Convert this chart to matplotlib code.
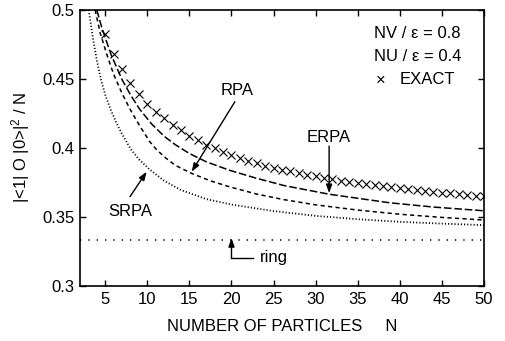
import matplotlib
matplotlib.use("Agg")
import matplotlib.pyplot as plt

plt.rcParams['font.family'] = ['Liberation Sans', 'DejaVu Sans']
plt.rcParams['mathtext.fontset'] = 'custom'
plt.rcParams['mathtext.rm'] = 'Liberation Sans'
plt.rcParams['mathtext.it'] = 'Liberation Sans'
plt.rcParams['lines.scale_dashes'] = False

# ---- data ----
exact_n = list(range(5, 51))
exact_v = [0.4826, 0.4679, 0.457, 0.4469, 0.4389, 0.432, 0.4263, 0.4215, 0.4168, 0.4128,
           0.409, 0.4055, 0.4025, 0.3998, 0.3973, 0.395, 0.3928, 0.3908, 0.389, 0.3872,
           0.3857, 0.3843, 0.383, 0.3817, 0.3805, 0.3794, 0.3783, 0.3773, 0.3763, 0.3754,
           0.3745, 0.3737, 0.3729, 0.3722, 0.3715, 0.3708, 0.3701, 0.3695, 0.3689, 0.3683,
           0.3677, 0.3671, 0.3665, 0.366, 0.3655, 0.365]

erpa_n = [4.0, 4.6, 5.7, 7.0, 8.0, 9.1, 10.5, 12.0, 13.3, 15.0, 17.0, 19.8, 23.0, 26.3, 31.6, 38.8, 44.0, 50.0]
erpa_v = [0.500, 0.487, 0.4675, 0.4495, 0.4385, 0.428, 0.4175, 0.4085, 0.4025, 0.396, 0.390,
          0.3838, 0.378, 0.3727, 0.3665, 0.3603, 0.3572, 0.3545]

rpa_n = [3.8, 4.4, 5.1, 5.7, 6.1, 7.0, 8.0, 9.1, 10.3, 11.1, 12.2, 13.3, 15.3, 17.5, 19.8, 23.0, 26.3, 30.0, 35.0, 40.0, 45.0, 50.0]
rpa_v = [0.500, 0.4833, 0.4695, 0.4585, 0.452, 0.4395, 0.4275, 0.416, 0.4045, 0.3988, 0.3927,
         0.3875, 0.3815, 0.3762, 0.3718, 0.3666, 0.3625, 0.3588, 0.355, 0.352, 0.3497, 0.3478]

srpa_n = [3.03, 3.5, 4.0, 4.5, 5.0, 5.6, 6.3, 7.0, 8.0, 9.0, 10.3, 12.0, 14.0, 17.0, 20.0, 25.0, 30.0, 35.0, 40.0, 45.0, 50.0]
srpa_v = [0.500, 0.481, 0.4635, 0.4495, 0.4385, 0.4285, 0.4185, 0.410, 0.3995, 0.3918, 0.3843,
          0.3762, 0.3695, 0.363, 0.359, 0.3543, 0.3508, 0.3484, 0.3465, 0.3452, 0.3441]

ring_n = [2, 50]
ring_v = [1/3, 1/3]

xticks = [5, 10, 15, 20, 25, 30, 35, 40, 45, 50]
yticks = [0.3, 0.35, 0.4, 0.45, 0.5]
ytick_labels = ["0.3", "0.35", "0.4", "0.45", "0.5"]

FS = 12

# ---- figure ----
fig = plt.figure(figsize=(5.05, 3.41), dpi=100)
ax = fig.add_axes([0.1584, 0.1613, 0.8, 0.8094])

ax.plot(exact_n, exact_v, linestyle='none', marker='x', color='black',
        markersize=6, markeredgewidth=0.8)
ax.plot(erpa_n, erpa_v, color='black', lw=1.1, linestyle=(0, (5.5, 2.0)))
ax.plot(rpa_n, rpa_v, color='black', lw=1.1, linestyle=(0, (3.0, 2.4)))
ax.plot(srpa_n, srpa_v, color='black', lw=1.3, linestyle=(0, (0.8, 1.5)))
ax.plot(ring_n, ring_v, color='black', lw=1.2, linestyle=(0, (0.9, 5.1)))

ax.set_xlim(2, 50)
ax.set_ylim(0.3, 0.5)
ax.set_xticks(xticks)
ax.set_yticks(yticks)
ax.set_yticklabels(ytick_labels)
ax.tick_params(direction='in', top=True, right=True, length=4, width=1,
               labelsize=FS, pad=4)
for s in ax.spines.values():
    s.set_linewidth(1.2)

ax.set_xlabel("NUMBER OF PARTICLES     N", fontsize=FS, labelpad=9)
ax.set_ylabel("|<1| O |0>|$^2$ / N", fontsize=FS, labelpad=7)

# legend-like texts
ax.text(36.9, 0.4833, "NV / ε = 0.8", fontsize=FS, va='center', ha='left')
ax.text(36.9, 0.4660, "NU / ε = 0.4", fontsize=FS, va='center', ha='left')
ax.text(37.2, 0.4493, "×", fontsize=FS, va='center', ha='left')
ax.text(40.0, 0.4493, "EXACT", fontsize=FS, va='center', ha='left')

arrow = dict(arrowstyle='-|>,head_length=0.5,head_width=0.18', color='black', lw=1.0,
             shrinkA=0, shrinkB=0)
# RPA
ax.annotate("", xy=(15.27, 0.3828), xytext=(20.4, 0.4335), arrowprops=arrow)
ax.text(20.65, 0.4420, "RPA", fontsize=FS, ha='center', va='center')
# ERPA
ax.annotate("", xy=(31.6, 0.3673), xytext=(31.6, 0.4014), arrowprops=arrow)
ax.text(31.5, 0.4079, "ERPA", fontsize=FS, ha='center', va='center')
# SRPA
ax.annotate("", xy=(9.92, 0.3828), xytext=(7.94, 0.3647), arrowprops=arrow)
ax.text(7.94, 0.3538, "SRPA", fontsize=FS, ha='center', va='center')
# ring
ax.plot([20.0, 22.6], [0.3203, 0.3203], color='black', lw=1.0)
ax.annotate("", xy=(20.0, 0.3347), xytext=(20.0, 0.3203), arrowprops=arrow)
ax.text(23.4, 0.3210, "ring", fontsize=FS, ha='left', va='center')

fig.savefig("out.png", dpi=100)
